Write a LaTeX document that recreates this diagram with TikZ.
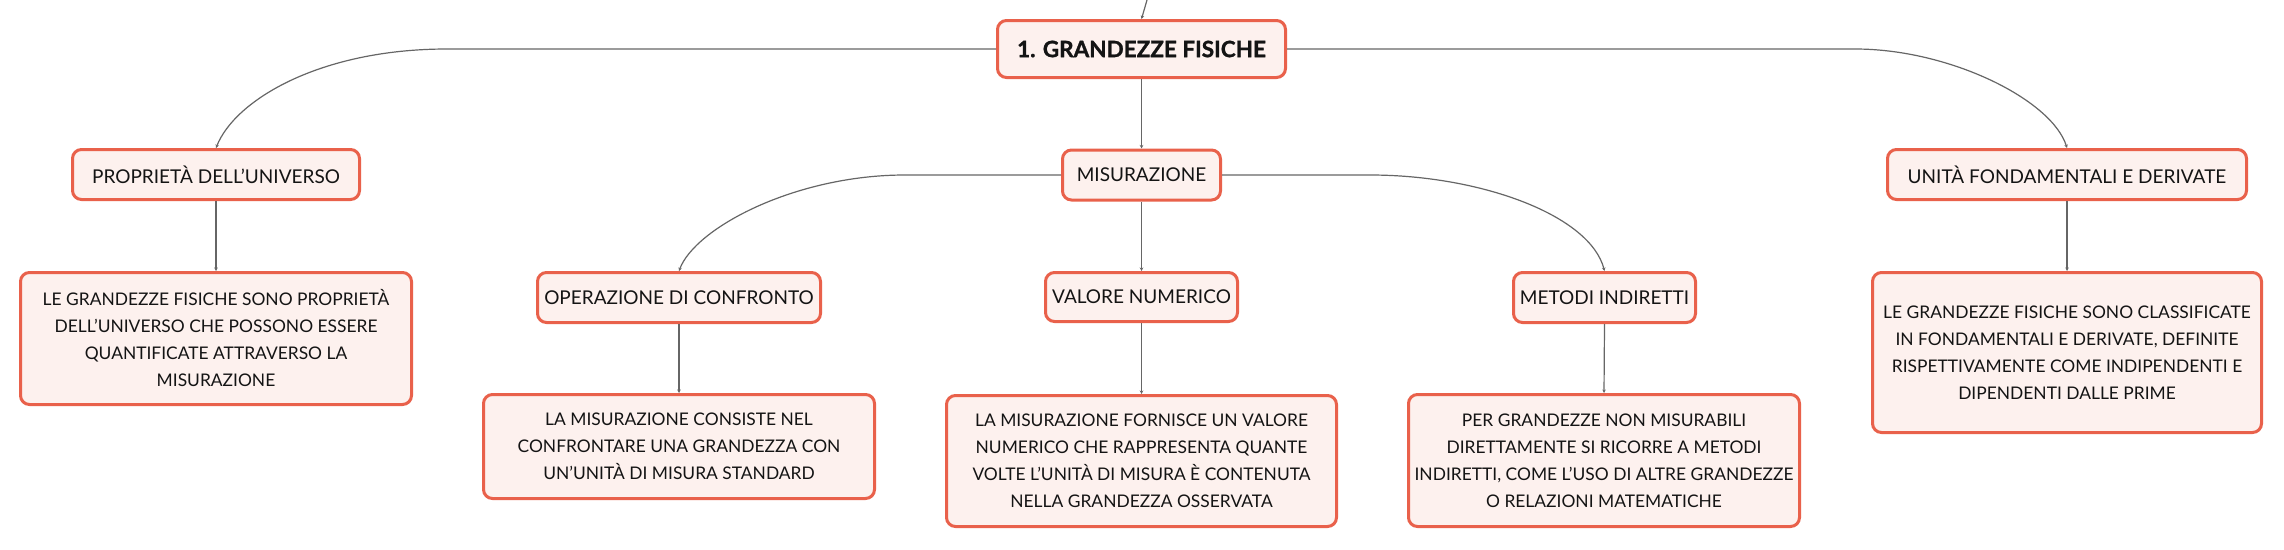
\documentclass[tikz,border=0pt]{standalone}
\usepackage{fontspec}
\setmainfont{Lato}
\newfontface\titlefont{Lato Bold}[FakeBold=1.2]
\usetikzlibrary{arrows.meta}
\definecolor{boxborder}{HTML}{E9614B}
\definecolor{boxfill}{HTML}{FDF1EE}
\definecolor{linegray}{HTML}{666666}
\definecolor{txt}{HTML}{141414}
\tikzset{
  box/.style={draw=boxborder, line width=3pt, fill=boxfill, rounded corners=9pt,
    text=txt, align=center, inner sep=0pt},
  rootbox/.style={box, font=\fontsize{22.5}{26}\titlefont},
  topic/.style={box, font=\fontsize{19}{23}\selectfont},
  desc/.style={box, font=\fontsize{17.4}{27}\selectfont},
  conn/.style={draw=linegray, line width=1.2pt, -{Stealth[length=3.5pt,width=3.5pt]}},
}
\begin{document}
\begin{tikzpicture}[x=1pt,y=-1pt]
\useasboundingbox (0,0) rectangle (2284,549);
\fill[white] (0,0) rectangle (2284,549);
% nodes
\node[rootbox, minimum width=288pt, minimum height=57pt] (root) at (1141.5,49) {1. GRANDEZZE FISICHE};
\node[topic, minimum width=158pt, minimum height=50pt] (mis) at (1141.5,175) {MISURAZIONE};
\node[topic, minimum width=287pt, minimum height=50pt] (prop) at (216,174.5) {PROPRIETÀ DELL’UNIVERSO};
\node[topic, minimum width=359pt, minimum height=50pt] (unit) at (2067,174.5) {UNITÀ FONDAMENTALI E DERIVATE};
\node[desc, minimum width=391pt, minimum height=132pt] (propt) at (216,338.5) {LE GRANDEZZE FISICHE SONO PROPRIETÀ\\DELL’UNIVERSO CHE POSSONO ESSERE\\QUANTIFICATE ATTRAVERSO LA\\MISURAZIONE};
\node[desc, minimum width=389pt, minimum height=160pt] (unitt) at (2067,352.5) {LE GRANDEZZE FISICHE SONO CLASSIFICATE\\IN FONDAMENTALI E DERIVATE, DEFINITE\\RISPETTIVAMENTE COME INDIPENDENTI E\\DIPENDENTI DALLE PRIME};
\node[topic, minimum width=283pt, minimum height=50pt] (op) at (679,297.5) {OPERAZIONE DI CONFRONTO};
\node[topic, minimum width=192pt, minimum height=49pt] (val) at (1141.5,297) {VALORE NUMERICO};
\node[topic, minimum width=182pt, minimum height=50pt] (met) at (1604.5,297.5) {METODI INDIRETTI};
\node[desc, minimum width=391pt, minimum height=104pt] (opt) at (679,446.5) {LA MISURAZIONE CONSISTE NEL\\CONFRONTARE UNA GRANDEZZA CON\\UN’UNITÀ DI MISURA STANDARD};
\node[desc, minimum width=390pt, minimum height=131pt] (valt) at (1141.5,461) {LA MISURAZIONE FORNISCE UN VALORE\\NUMERICO CHE RAPPRESENTA QUANTE\\VOLTE L’UNITÀ DI MISURA È CONTENUTA\\NELLA GRANDEZZA OSSERVATA};
\node[desc, minimum width=391pt, minimum height=132pt] (mett) at (1604,460.5) {PER GRANDEZZE NON MISURABILI\\DIRETTAMENTE SI RICORRE A METODI\\INDIRETTI, COME L’USO DI ALTRE GRANDEZZE\\O RELAZIONI MATEMATICHE};
% helper coordinates
\coordinate (topin) at (1147,0);
\coordinate (lbend) at (447,49);
\coordinate (rbend) at (1855,49);
\coordinate (mlbend) at (905,175);
\coordinate (mrbend) at (1370,175);
% connectors
\draw[conn] (topin) -- (root.north);
\draw[conn] (root.west) -- (lbend) .. controls (320,49) and (235,100) .. (prop.north);
\draw[conn] (root.east) -- (rbend) .. controls (1950,49) and (2052,100) .. (unit.north);
\draw[conn] (root.south) -- (mis.north);
\draw[conn] (prop.south) -- (propt.north);
\draw[conn] (unit.south) -- (unitt.north);
\draw[conn] (mis.west) -- (mlbend) .. controls (795,175) and (695,228) .. (op.north);
\draw[conn] (mis.east) -- (mrbend) .. controls (1480,175) and (1590,215) .. (met.north);
\draw[conn] (mis.south) -- (val.north);
\draw[conn] (op.south) -- (opt.north);
\draw[conn] (val.south) -- (valt.north);
\draw[conn] (met.south) -- (mett.north);
\end{tikzpicture}
\end{document}
